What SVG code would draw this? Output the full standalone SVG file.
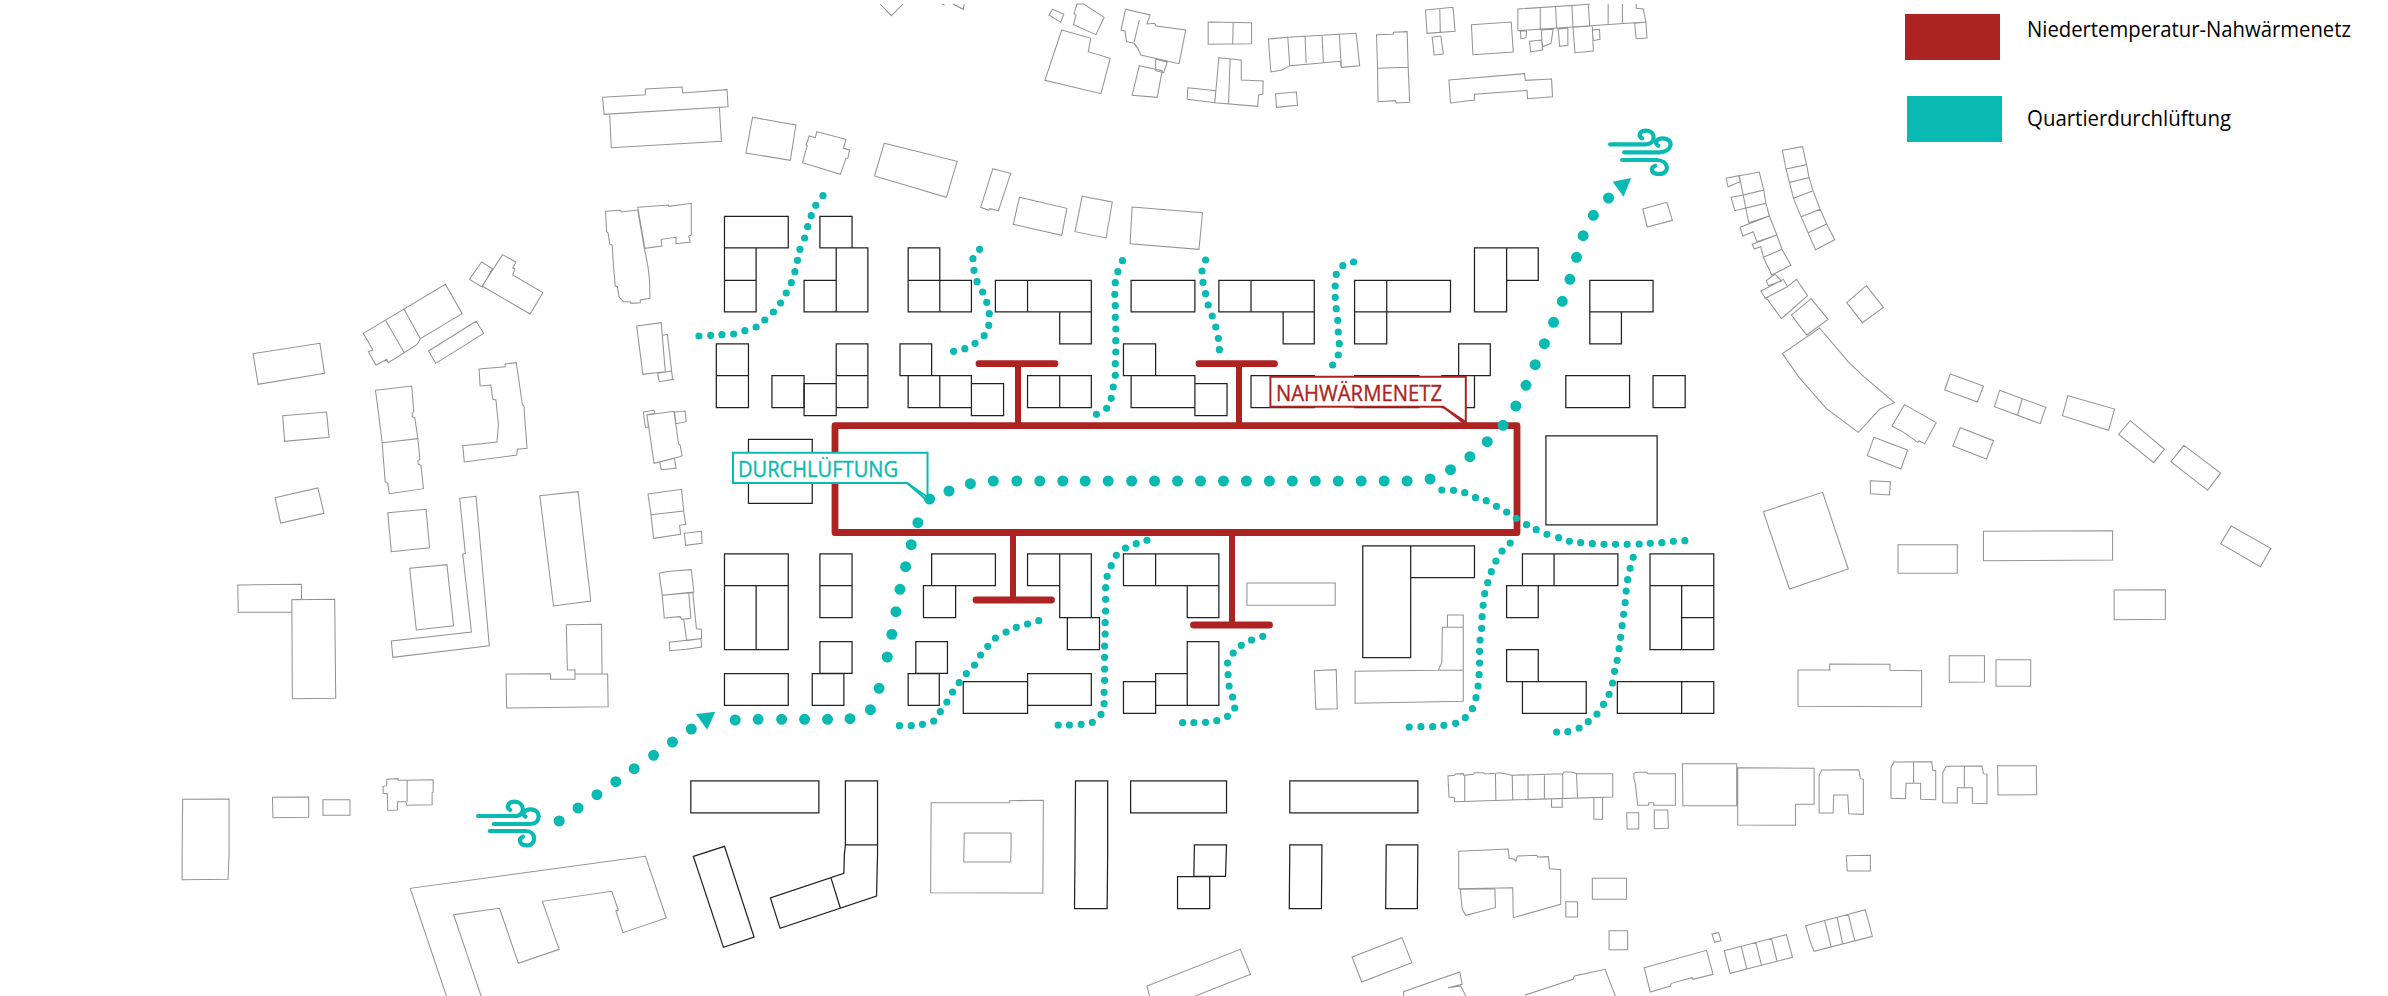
<svg xmlns="http://www.w3.org/2000/svg" width="2388" height="996" viewBox="0 0 2388 996">
<style>
text{font-family:"Open Sans","Noto Sans","Liberation Sans",sans-serif}
.g,.k,.dl,.ds,.w{fill:none;vector-effect:non-scaling-stroke}
.g{stroke:#949494;stroke-width:1.05;stroke-linejoin:miter}
.k{stroke:#222;stroke-width:1.25}
.dl,.ds{stroke:#09bab2;stroke-linecap:round}
.dl{stroke-width:11}
.ds{stroke-width:7.2}
.w{stroke:#09bab2;stroke-width:4.2;stroke-linecap:round}
.arrow{fill:#09bab2}
.net{fill:none;stroke:#ad2322;stroke-linejoin:round}
.label{fill:#fff;stroke-width:2}
.lt{stroke-width:.35}
</style>
<rect width="2388" height="996" fill="#fff"/>
<g id="context-buildings">
<path class="g" transform="scale(.5102,.33333)" d="M1181 292 1265 284 1265 267 1337 261 1338 279 1425 269 1427 320 1184 343Z M1195 341 1198 443 1414 424 1410 322 M1475 352 1560 375 1549 481 1462 459Z M1187 634 1216 631 1218 636 1250 630 1263 745 1270 800 1272 825 1273 840 1274 895 1255 900 1255 908 1237 910 1235 905 1222 905 1213 890 1210 860 1206 858 1202 790 1200 735 1195 732 1192 700 1189 695Z M1250 622 1310 615 1311 619 1355 610 1355 705 1350 708 1353 726 1325 731 1325 712 1296 718 1297 738 1264 745Z M985 764 1011 786 1005 804 1009 806 1005 825 1064 878 1039 942 945 858Z M944 786 965 806 945 861 920 838Z M712 1000 873 853 906 941 824 1016 817 1034 761 1088 758 1078 737 1096 722 1055 731 1050Z M756 962 793 1060 M792 928 824 1016 M933 964 948 1000 854 1090 840 1053Z M496 1061 627 1030 636 1120 506 1153Z M736 1171 807 1158 811 1235 808 1238 808 1250 813 1253 819 1316 749 1328Z M749 1328 819 1316 823 1378 819 1382 820 1393 825 1396 830 1466 763 1481 760 1450 755 1445Z M554 1247 640 1236 645 1312 558 1324Z M939 1107 990 1100 990 1092 1012 1088 1024 1215 1027 1218 1028 1245 1033 1345 1014 1348 1013 1365 910 1386 907 1337 974 1326 977 1275 972 1200 966 1198 962 1155 941 1158Z M1248 978 1296 968 1304 1115 1260 1123Z M1298 1006 1308 1003 1318 1135 1320 1138 1292 1145 1289 1120 1304 1115Z M1289 1120 1316 1113 M1268 1245 1321 1234 1330 1332 1333 1335 1337 1367 1332 1370 1282 1390Z M1261 1236 1282 1231 1283 1240 1268 1245 1271 1280 1265 1283Z M1322 1236 1343 1233 1345 1265 1325 1271Z M1293 1386 1322 1375 1325 1405 1296 1409Z"/>
<path class="g" transform="translate(800,0) scale(.5102,.33333)" d="M157 12 179 47 202 12 M278 12 283 15 M300 12 320 28 322 12 M488 45 495 28 517 42 511 67Z M537 40 543 12 556 12 596 52 580 104 536 74 541 45Z M513 90 570 115 565 155 608 175 590 281 480 241Z M638 28 686 45 680 72 695 70 698 78 756 90 743 191 668 165 662 145 655 130 640 125 637 93 629 91Z M665 60 655 126 M665 197 710 212 700 292 651 286Z M697 178 720 186 713 218 697 212Z M800 66 885 68 885 131 800 133Z M849 68 848 133 M918 117 956 112 1090 100 1097 197 1061 202 1059 184 1000 192 960 197 945 210 923 216Z M956 112 960 197 M990 110 992 190 M1023 105 1026 188 M1057 102 1061 200 M821 173 865 180 865 240 908 243 907 282 899 285 897 319 813 308Z M843 178 840 312 M760 263 815 272 813 308 759 298Z M932 281 973 276 975 316 934 322Z M1130 104 1163 103 1163 97 1190 95 1192 202 1132 205Z M1132 205 1192 202 1195 307 1169 309 1167 302 1133 305Z M1226 30 1280 22 1284 94 1229 100Z M1254 27 1255 96 M1239 112 1256 108 1261 162 1243 165Z M1316 74 1394 66 1398 156 1319 164Z M1407 92 1407 27 1548 13 M1407 92 1658 66 M1451 24 1451 90 M1481 20 1483 87 M1513 15 1515 82 M1545 13 1548 78 M1584 12 1584 72 M1612 12 1612 70 M1639 12 1639 25 1653 27 1658 66 M1412 94 1424 92 1423 113 1413 116Z M1430 124 1454 120 1455 150 1432 156Z M1453 90 1476 88 1472 130 1456 140 1454 120Z M1486 87 1505 84 1505 136 1489 139Z M1515 82 1553 78 1555 153 1519 158Z M1553 90 1567 88 1568 118 1555 122Z M1636 70 1658 66 1660 114 1639 116Z M1272 240 1420 221 1422 241 1473 237 1475 290 1426 296 1425 271 1322 283 1322 300 1275 309Z M33 395 90 418 85 445 97 450 94 474 90 476 79 523 5 488 14 437 12 435 18 408 30 413Z M165 430 308 484 287 592 146 528Z M378 506 413 520 389 632 372 626 370 631 354 622Z M430 592 523 625 513 706 418 673Z M553 589 612 606 600 714 539 695Z M651 621 789 638 782 748 647 731Z"/>
<path class="g" transform="translate(1600,0) scale(.50255,.33333)" d="M85 627 133 607 144 661 94 681Z M251 535 276 527 279 545 263 555 255 561Z M277 527 317 516 326 570 285 585Z M285 585 326 570 330 610 290 624Z M290 624 330 610 337 648 296 668Z M279 682 337 648 352 705 312 725 305 695 284 708Z M303 733 352 705 362 748 325 772 320 740 307 747Z M325 772 362 748 380 796 342 825Z M261 592 285 585 290 624 268 632Z M363 451 403 440 411 494 370 507Z M370 507 411 494 416 533 377 547Z M377 547 416 533 424 572 385 595Z M385 595 424 572 438 628 400 650Z M400 650 438 628 451 672 414 698Z M414 698 451 672 467 719 429 749Z M348 822 361 843 335 857 331 842Z M320 873 365 838 373 860 329 895Z M329 895 373 860 391 838 413 887 361 956 334 900Z M420 896 454 958 411 1005 381 945Z M530 857 564 922 522 968 491 908Z M437 984 495 1087 525 1130 586 1208 557 1227 514 1297 450 1225 395 1130 363 1061Z M697 1122 763 1158 751 1206 686 1170Z M795 1171 887 1222 876 1271 785 1220Z M840 1197 831 1245 M931 1187 1024 1227 1012 1291 920 1247Z M1055 1262 1123 1347 1102 1388 1032 1303Z M1162 1336 1235 1419 1209 1471 1136 1385Z M606 1214 669 1268 646 1331 635 1323 632 1327 610 1303 605 1298 581 1278Z M717 1283 783 1322 769 1377 702 1338Z M545 1312 612 1350 599 1407 532 1367Z M538 1442 578 1445 576 1485 538 1481Z"/>
<path class="g" transform="translate(0,496) scale(.5102,.33333)" d="M539 5 623 -24 635 52 550 81Z M760 50 835 40 842 155 767 167Z M901 7 933 1 959 449 770 484 767 435 924 408 907 175 912 172Z M803 217 876 206 889 389 816 402Z M1058 -1 1133 -13 1158 315 1085 330Z M1270 -6 1336 -20 1340 45 1276 56Z M1276 56 1340 45 1344 85 1332 88 1334 115 1281 127Z M1341 112 1375 106 1376 142 1344 148Z M466 267 591 265 591 310 572 311 572 348 467 349Z M572 311 656 310 658 607 573 608Z M1110 386 1179 385 1180 534 1127 534 1127 522 1112 522Z M992 534 1079 533 1079 550 1127 550 1127 534 1191 534 1192 632 993 636Z M1292 232 1305 227 1325 224 1355 221 1360 288 1298 298Z M1298 298 1350 291 1354 367 1336 370 1333 362 1302 366Z M1350 291 1358 291 1365 398 1375 400 1375 428 1346 434 1340 370 M1312 439 1374 428 1375 453 1345 460 1313 464Z M358 910 449 909 449 1073 447 1150 357 1151 357 1075Z M534 904 605 903 605 964 535 965Z M633 911 686 911 686 958 633 958Z M758 850 780 848 781 853 798 853 849 851 849 888 847 890 847 926 798 928 795 917 779 917 779 942 760 943 759 893 751 892 751 871 758 869Z M798 853 798 917 M875 1500 804 1177 1265 1081 1306 1266 1221 1310 1207 1244 1212 1243 1199 1186 1063 1216 1096 1360 1016 1402 979 1237 889 1256 943 1500"/>
<path class="g" transform="translate(800,496) scale(.5102,.33333)" d="M876 261 1049 261 1049 328 876 328Z M257 920 411 920 411 914 477 913 476 1191 256 1190Z M322 1011 414 1011 413 1098 321 1098Z M1008 524 1051 521 1053 638 1011 640Z M1088 526 1251 523 1300 523 1300 616 1088 622Z M1251 523 1258 500 1259 394 1300 394 1300 523 M1269 394 1269 357 1300 357 1300 394 M1283 917 1283 905 1272 903 1270 840 1283 838 1284 834 1300 833 1301 838 1320 835 1322 830 1340 830 1342 834 1365 832 1372 830 1395 838 1495 833 1498 828 1512 828 1524 833 1593 833 1593 903 1283 917 M1303 838 1303 917 M1363 832 1364 914 M1396 838 1397 912 M1427 838 1427 910 M1459 838 1459 910 M1495 833 1495 908 M1522 833 1524 904 M1473 910 1473 934 1494 934 1494 908 M1556 905 1556 970 1573 970 1573 903 M1291 1066 1388 1059 1390 1087 1400 1090 1403 1096 1406 1080 1444 1078 1446 1083 1467 1082 1469 1118 1491 1121 1491 1225 1398 1265 1397 1175 1291 1178Z M1294 1180 1362 1178 1363 1235 1305 1258 1298 1240Z M1501 1217 1524 1217 1524 1263 1501 1263Z M1553 1147 1620 1147 1620 1210 1553 1210Z M685 1500 680 1470 863 1360 883 1435 775 1500 M1082 1383 1180 1325 1199 1400 1101 1458Z M1183 1500 1183 1487 1293 1428 1298 1465 1270 1475 1295 1470 1305 1500 M1422 1500 1422 1497 1515 1450 1518 1440 1578 1420 1598 1500"/>
<path class="g" transform="translate(1600,496) scale(.50255,.33333)" d="M18 1304 55 1304 55 1361 18 1361Z M88 1415 212 1363 225 1435 185 1450 183 1445 142 1462 140 1470 100 1488Z M247 1364 371 1316 383 1384 259 1432Z M281 1351 292 1418 M310 1339 321 1406 M341 1328 352 1394 M409 1289 445 1274 495 1255 528 1241 542 1321 426 1366 418 1335Z M447 1274 460 1353 M472 1265 483 1344 M494 1255 507 1334 M223 1314 236 1310 241 1334 228 1339Z M490 1079 538 1078 538 1125 492 1125Z M68 832 73 829 93 829 95 833 150 833 150 928 107 928 107 920 97 920 97 928 75 928 70 860 67 845Z M164 803 272 803 272 929 165 929Z M274 815 426 817 426 925 389 925 389 988 274 987Z M436 839 441 822 515 821 518 848 524 850 524 955 495 953 493 897 465 897 464 951 436 951Z M579 907 579 815 585 798 660 797 662 822 668 824 668 911 638 910 638 862 609 862 608 908Z M624 797 624 862 M682 920 682 830 689 811 760 810 763 833 770 835 770 923 741 922 741 875 711 875 711 921Z M725 811 725 875 M791 809 868 809 869 896 792 897Z M53 950 77 950 77 999 54 999Z M108 942 135 942 136 997 108 998Z M325 47 443 -11 494 219 377 279Z M593 146 711 146 711 232 593 232Z M763 106 1020 104 1020 192 763 194Z M1023 282 1125 281 1125 370 1023 371Z M1256 90 1335 157 1314 212 1235 143Z M394 522 457 522 457 504 577 505 577 523 640 524 640 632 394 631Z M695 479 765 479 765 558 695 559Z M788 491 857 491 857 571 788 571Z"/>
</g>
<g id="district-buildings">
<path class="k" transform="scale(.5102,.33333)" d="M1420 649H1545V744H1420Z M1420 744H1482V841H1420Z M1420 841H1482V936H1420Z M1404 1032H1467V1127H1404Z M1404 1127H1467V1223H1404Z M1513 1127H1576V1223H1513Z M1467 1318H1592V1510H1467Z"/>
<path class="k" transform="translate(800,0) scale(.5102,.33333)" d="M39 649H102V744H39Z M71 744H133V936H71Z M8 841H71V936H8Z M212 744H274V841H212Z M212 841H274V936H212Z M274 841H336V936H274Z M383 841H446V936H383Z M446 841H571V936H446Z M509 936H571V1032H509Z M649 841H774V936H649Z M821 841H884V936H821Z M884 841H1008V936H884Z M947 936H1008V1032H947Z M1087 841H1150V936H1087Z M1150 841H1275V936H1150Z M1087 936H1150V1032H1087Z M1322 744H1385V936H1322Z M1385 744H1447V841H1385Z M1548 841H1672V936H1548Z M1548 936H1610V1032H1548Z M8 1151H71V1247H8Z M71 1032H133V1127H71Z M71 1127H133V1223H71Z M196 1032H258V1127H196Z M212 1127H274V1223H212Z M274 1127H336V1223H274Z M336 1151H399V1247H336Z M446 1127H509V1223H446Z M509 1127H571V1223H509Z M634 1032H697V1127H634Z M649 1127H774V1223H649Z M774 1151H837V1247H774Z M884 1127H1008V1223H884Z M1087 1127H1213V1223H1087Z M1258 1127H1322V1223H1258Z M1291 1032H1353V1127H1291Z M1501 1127H1626V1223H1501Z M1672 1127H1735V1223H1672Z M1462 1308H1680V1575H1462Z"/>
<path class="k" transform="translate(800,496) scale(.5102,.33333)" d="M39 174H102V269H39Z M39 269H102V365H39Z M258 174H383V269H258Z M242 269H305V365H242Z M446 174H509V269H446Z M509 174H571V365H509Z M524 365H587V461H524Z M634 174H697V269H634Z M697 174H821V269H697Z M759 269H821V365H759Z M1103 150H1197V485H1103Z M1197 150H1322V245H1197Z M1416 174H1478V269H1416Z M1478 174H1603V269H1478Z M1385 269H1447V365H1385Z M1666 174H1791V269H1666Z M1666 269H1728V461H1666Z M1728 269H1791V365H1728Z M1728 365H1791V461H1728Z M39 437H102V532H39Z M24 533H86V628H24Z M227 437H289V532H227Z M212 533H273V628H212Z M320 557H446V652H320Z M446 533H571V628H446Z M759 437H821V628H759Z M697 533H759V628H697Z M634 557H697V652H634Z M1385 461H1447V557H1385Z M1416 557H1541V652H1416Z M1602 557H1728V652H1602Z M1728 557H1791V652H1728Z M-148 174H-23V269H-148Z M-148 269H-23V461H-148Z M-86 269V461 M-148 533H-23V628H-148Z M-214 855H37V951H-214Z M89 855H152V1047H89Z M89 1047H152V1075L150 1200 -39 1297 -58 1206 86 1132 87 1075Z M61 1147 79 1236 M-209 1081 -148 1051 -90 1323 -150 1354Z M540 855H603V1075L602 1238H538L539 1075Z M648 855H836V951H648Z M960 855H1211V951H960Z M773 1047H836L834 1141H772Z M740 1142H803V1238H740Z M960 1047H1023L1022 1238H959Z M1149 1047H1211L1210 1238H1148Z"/>
</g>
<g id="connectors">
<g id="nahwaermenetz">
<rect class="net" x="835" y="425.7" width="682" height="106.8" stroke-width="6.8"/>
<path class="net" stroke-width="6" d="M1018 425V364 M1239 425V364 M1013 532V600 M1232 532V625"/>
<path class="net" stroke-width="6.8" stroke-linecap="round" d="M979 363.7H1055 M1199 363.7H1274.5 M976 600H1051.5 M1193.5 625H1269.5"/>
</g>
<g id="quartierdurchlueftung">
<g transform="scale(.5102,.33333)">
<path class="ds" d="M1370 1008h0M1393 1006h0M1415 1004h0M1438 1002h0M1460 992h0M1482 981h0M1499 960h0M1516 936h0M1530 909h0M1541 879h0M1551 848h0M1558 815h0M1563 781h0M1568 748h0"/>
</g>
<g transform="translate(800,0) scale(.5102,.33333)">
<path class="ds" d="M9 714h0M15 680h0M22 647h0M31 616h0M45 587h0 M352 748h0M339 776h0M341 811h0M347 845h0M358 876h0M366 907h0M371 941h0M370 976h0M361 1007h0M343 1030h0M323 1046h0M301 1054h0 M632 782h0M623 815h0M618 848h0M617 883h0M618 917h0M618 952h0M619 987h0M619 1022h0M619 1056h0M618 1091h0M618 1126h0M614 1161h0M610 1195h0M601 1225h0M581 1243h0 M795 780h0M788 813h0M790 847h0M795 881h0M800 915h0M808 948h0M815 981h0M820 1015h0M822 1049h0 M1085 786h0M1064 797h0M1051 823h0M1049 858h0M1049 892h0M1051 926h0M1054 961h0M1055 996h0M1057 1031h0M1055 1065h0M1044 1095h0 M1258 1470h0M1281 1471h0M1303 1478h0"/>
<path class="dl" d="M254 1497h0M292 1473h0M334 1451h0M379 1443h0M425 1443h0M470 1443h0M515 1443h0M559 1443h0M604 1443h0M650 1443h0M695 1443h0M740 1443h0M785 1443h0M830 1443h0M875 1443h0M920 1443h0M965 1443h0M1010 1443h0M1055 1443h0M1100 1443h0M1145 1443h0M1190 1443h0M1235 1437h0M1275 1409h0M1313 1370h0M1347 1325h0M1378 1276h0M1403 1218h0M1423 1156h0M1441 1094h0M1459 1031h0M1477 967h0M1494 904h0M1509 838h0M1522 772h0M1535 707h0M1555 646h0"/>
</g>
<g transform="translate(1600,0) scale(.50255,.33333)">
<path class="dl" d="M17 594h0"/>
<polygon class="arrow" points="25,545 62,534 47,590"/>
<path class="w" d="M20 433H90C112 433 112 392 92 392C78 392 75 408 84 415 M48 457H118C145 457 148 415 125 415C112 415 107 430 116 437 M44 480H112C138 480 140 522 118 522C102 522 98 503 110 497"/>
</g>
<g transform="translate(0,496) scale(.5102,.33333)">
<path class="dl" d="M1096 975h0M1133 936h0M1170 896h0M1207 857h0M1243 818h0M1281 778h0M1318 738h0M1355 699h0M1441 672h0M1486 670h0M1532 670h0"/>
<polygon class="arrow" points="1364,654 1402,647 1386,701"/>
<path class="w" d="M937 960H1010C1030 960 1030 917 1008 917C995 917 992 935 1000 942 M968 984H1040C1060 984 1062 940 1040 940C1028 940 1022 955 1030 962 M960 1005H1030C1052 1005 1052 1048 1033 1048C1018 1048 1015 1030 1025 1022"/>
</g>
<g transform="translate(800,496) scale(.5102,.33333)">
<path class="dl" d="M9 670h0M54 670h0M98 668h0M138 641h0M155 577h0M171 483h0M180 415h0M188 347h0M196 280h0M207 212h0M218 146h0M231 80h0"/>
<path class="ds" d="M1324 5h0M1345 14h0M1365 31h0M1385 48h0M1404 67h0M1424 86h0M1443 101h0M1464 115h0M1487 125h0M1508 136h0M1530 140h0M1553 143h0 M195 689h0M218 689h0M240 685h0M262 675h0M275 647h0M288 618h0M299 588h0M312 560h0M326 533h0M342 507h0M354 477h0M368 451h0M383 426h0M404 408h0M424 394h0M446 384h0M468 374h0 M506 687h0M528 687h0M551 685h0M573 679h0M590 655h0M596 623h0M596 589h0M597 553h0M597 519h0M597 484h0M597 450h0M598 414h0M598 380h0M599 345h0M599 310h0M599 275h0M602 241h0M610 209h0M620 178h0M638 156h0M659 143h0M680 133h0 M750 680h0M772 680h0M795 679h0M817 674h0M838 661h0M852 636h0M848 603h0M841 570h0M839 536h0M838 501h0M849 471h0M865 448h0M885 432h0M907 421h0 M1194 693h0M1217 692h0M1240 692h0M1262 688h0M1285 682h0M1304 665h0M1318 638h0M1325 605h0M1329 570h0M1331 536h0M1332 501h0M1332 466h0M1333 432h0M1336 397h0M1337 362h0M1339 328h0M1342 293h0M1348 260h0M1355 227h0M1364 195h0M1376 165h0M1392 141h0 M1483 708h0M1505 707h0M1527 696h0M1545 677h0M1562 654h0"/>
</g>
<g transform="translate(1600,496) scale(.50255,.33333)">
<path class="ds" d="M8 145h0M31 145h0M54 145h0M78 144h0M100 142h0M123 140h0M146 136h0M169 134h0 M7 625h0M18 595h0M25 561h0M29 526h0M34 493h0M38 458h0M41 424h0M44 389h0M47 355h0M50 320h0M52 285h0M55 251h0M60 217h0M66 184h0"/>
</g>
</g>
</g>
<g id="label-durchlueftung">
<path class="label" stroke="#09bab2" d="M733 452.7H927.5V497L907 483H733Z"/>
<path fill="none" stroke="#09bab2" stroke-width="2" d="M907 483 926.5 500"/>
<text class="lt" x="738" y="476.7" font-size="22" fill="#09bab2" stroke="#09bab2" textLength="160" lengthAdjust="spacingAndGlyphs">DURCHLÜFTUNG</text>
</g>
<g id="label-nahwaermenetz">
<path class="label" stroke="#ad2322" d="M1270.4 376.7H1465.8V422L1443 406.7H1270.4Z"/>
<path fill="none" stroke="#ad2322" stroke-width="2" d="M1443 406.7 1464 423"/>
<text class="lt" x="1276" y="401" font-size="22.5" fill="#ad2322" stroke="#ad2322" textLength="166" lengthAdjust="spacingAndGlyphs">NAHWÄRMENETZ</text>
</g>
<g id="legend">
<rect x="1905" y="14" width="95" height="46" fill="#ad2322"/>
<rect x="1907" y="96" width="95" height="46" fill="#09bab2"/>
<text x="2027" y="36.7" font-size="21.5" fill="#000" textLength="324" lengthAdjust="spacingAndGlyphs">Niedertemperatur-Nahwärmenetz</text>
<text x="2027" y="126" font-size="21.5" fill="#000" textLength="204" lengthAdjust="spacingAndGlyphs">Quartierdurchlüftung</text>
</g>
</svg>
